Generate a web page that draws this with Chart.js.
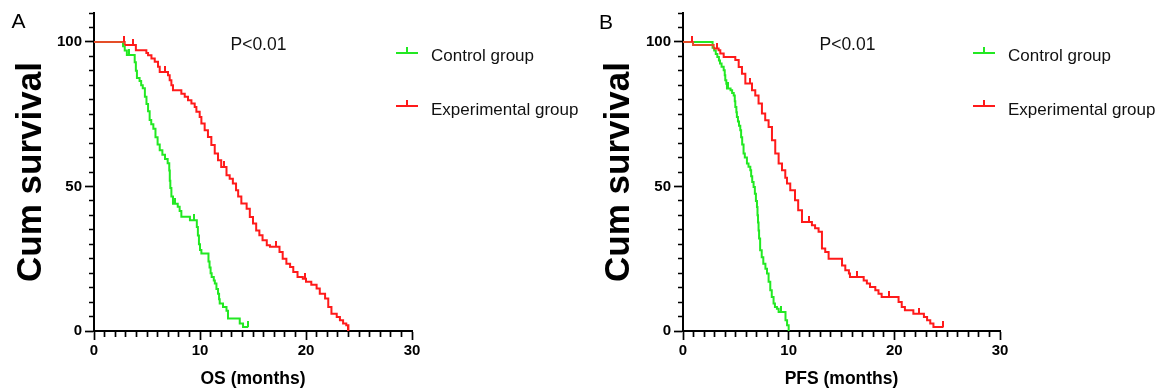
<!DOCTYPE html>
<html><head><meta charset="utf-8">
<script src="https://cdn.jsdelivr.net/npm/chart.js@4"></script>
<style>
html,body{margin:0;padding:0;background:#fff;width:1161px;height:390px;overflow:hidden;font-family:"Liberation Sans",Arial,sans-serif;}
canvas{position:absolute;top:0;}
#ca{left:0;}
#cb{left:588px;}
.lbl{position:absolute;color:#000;white-space:nowrap;line-height:1;}
.panel{font-size:21px;}
.pv{font-size:17.5px;color:#111;}
.leg{font-size:17px;color:#111;}
.glyph{position:absolute;width:22px;height:2px;}
.glyph::after{content:"";position:absolute;left:10px;top:-5px;width:2px;height:5px;background:inherit;}
</style></head>
<body>
<canvas id="ca" width="430" height="390"></canvas>
<canvas id="cb" width="430" height="390"></canvas>
<div class="lbl panel" style="left:11.5px;top:10px">A</div>
<div class="lbl panel" style="left:599px;top:11px">B</div>
<div class="lbl pv" style="left:230.5px;top:35.5px">P&lt;0.01</div>
<div class="lbl pv" style="left:819.5px;top:35.5px">P&lt;0.01</div>
<div class="glyph" style="left:396px;top:52px;background:#22e822"></div>
<div class="lbl leg" style="left:431px;top:46.5px">Control group</div>
<div class="glyph" style="left:396px;top:105px;background:#ff1a1a"></div>
<div class="lbl leg" style="left:431px;top:100.5px">Experimental group</div>
<div class="glyph" style="left:973px;top:52px;background:#22e822"></div>
<div class="lbl leg" style="left:1008px;top:46.5px">Control group</div>
<div class="glyph" style="left:973px;top:105px;background:#ff1a1a"></div>
<div class="lbl leg" style="left:1008px;top:100.5px">Experimental group</div>
<script>
// ---- Panel A: OS (months) ----
const osCtrlTime = [0, 2.74, 2.9, 3.1, 3.84, 3.95, 4.05, 4.3, 4.45, 4.6, 4.8, 4.95, 5.1, 5.25, 5.4, 5.6, 5.8, 6.0, 6.2, 6.45, 6.7, 6.95, 7.1, 7.15, 7.2, 7.3, 7.45, 7.9, 8.08, 8.24, 9.05, 9.7, 9.8, 9.9, 10.0, 10.13, 10.8, 10.9, 11.0, 11.1, 11.3, 11.4, 11.55, 11.7, 11.8, 11.86, 12.17, 12.5, 12.64, 13.75, 14.06];
const osCtrlSurv = [100, 98.5, 97, 95.5, 93, 90, 87.5, 86.5, 85, 84, 81, 78.5, 76, 73, 71.5, 70, 67, 64.5, 62.5, 61, 59.5, 58, 55.5, 52, 49.5, 46.5, 44, 43, 41.5, 39.5, 38.3, 36, 33, 30, 28, 26.8, 24, 22, 20, 18.7, 17.5, 16.4, 14.5, 12.9, 11, 9.5, 8.3, 7, 4.3, 2.6, 1.4];
const osCtrlEnd = 14.55;
const osCtrlCensor = [3.3, 7.6, 9.4, 14.55];

const osExpTime = [0, 2.9, 3.95, 4.94, 5.1, 5.42, 5.73, 6.04, 6.2, 6.98, 7.14, 7.3, 7.45, 8.24, 8.56, 8.87, 9.19, 9.5, 9.66, 9.97, 10.13, 10.44, 10.75, 11.07, 11.39, 11.7, 12.0, 12.5, 12.8, 13.1, 13.4, 13.6, 13.9, 14.4, 14.7, 15.0, 15.3, 15.6, 15.9, 16.3, 16.6, 17.5, 17.8, 18.15, 18.5, 18.8, 19.2, 19.7, 20.0, 20.5, 21.0, 21.3, 21.8, 22.1, 22.4, 22.9, 23.2, 23.5, 23.8, 24.0];
const osExpSurv = [100, 98.9, 97.1, 96.2, 95.4, 94.3, 93.1, 91.4, 89.6, 88.5, 86.7, 85, 83.3, 82.1, 81, 79.8, 78.7, 77.5, 75.8, 74, 71.8, 69.4, 67.1, 64.3, 61.4, 59.1, 56.7, 53.9, 52.7, 51, 48.7, 46.5, 44.1, 42.3, 39.4, 37.2, 34.8, 33.1, 31.4, 29.7, 29.1, 27.3, 25, 23.3, 22.1, 20.4, 18.7, 18.1, 17, 16, 14.7, 12.9, 11.2, 8.3, 6.0, 4.8, 3.7, 2.6, 2.0, 0];
const osExpEnd = 24.0;
const osExpCensor = [2.8, 3.7, 6.7, 12.3, 17.2, 19.9, 24.0];

// ---- Panel B: PFS (months) ----
const pfsCtrlTime = [0, 2.8, 2.95, 3.1, 3.25, 3.4, 3.5, 3.65, 3.85, 3.95, 4.0, 4.1, 4.16, 4.5, 4.65, 4.8, 4.9, 4.95, 5.05, 5.1, 5.2, 5.3, 5.42, 5.5, 5.6, 5.73, 5.85, 6.05, 6.2, 6.37, 6.45, 6.55, 6.68, 6.8, 6.9, 7.0, 7.05, 7.1, 7.15, 7.2, 7.3, 7.45, 7.6, 7.8, 7.95, 8.1, 8.26, 8.4, 8.57, 8.7, 8.89, 9.05, 9.7, 9.85, 10.0];
const pfsCtrlSurv = [100, 98, 97, 95.8, 94.8, 93.6, 92.5, 91.4, 90.2, 88.5, 86.7, 85.5, 83.9, 83.3, 82.3, 81.5, 79.5, 77.5, 75.7, 74, 72.5, 71, 69.4, 67, 64.5, 61.4, 60, 57.9, 56.8, 55.6, 53.5, 51.5, 49.8, 47.5, 45, 42.9, 40, 37.5, 34.8, 32, 27.9, 25.5, 23.3, 21.5, 19.9, 17, 14.1, 11.8, 9.5, 8.3, 7.7, 6.6, 3.7, 2, 0];
const pfsCtrlEnd = 10.0;
const pfsCtrlCensor = [4.3, 9.3];

const pfsExpTime = [0, 0.95, 2.9, 3.37, 3.53, 3.85, 4.95, 5.27, 5.58, 5.9, 6.53, 6.84, 7.15, 7.47, 7.78, 8.1, 8.42, 8.73, 9.05, 9.37, 9.68, 9.84, 10.15, 10.6, 10.9, 11.26, 12.2, 12.5, 12.83, 13.15, 13.46, 13.78, 15.05, 15.36, 15.7, 15.8, 17.1, 17.4, 17.7, 18.2, 18.5, 18.8, 20.4, 20.7, 21.0, 21.8, 22.8, 23.1, 23.4, 23.7];
const pfsExpSurv = [100, 98.9, 97.7, 97.1, 96, 94.8, 93.7, 91.3, 89, 85.6, 83.3, 81.5, 78.7, 75.2, 72.9, 70.6, 66, 61.4, 57.9, 55.6, 53, 51, 48.7, 45.2, 41.8, 37.7, 36.6, 35.5, 34.3, 28.5, 27.3, 25, 22.7, 21, 19.9, 18.7, 17.5, 16.4, 15.2, 14.1, 12.9, 11.8, 10, 8.3, 7.2, 6.0, 4.8, 3.7, 2.6, 1.4];
const pfsExpEnd = 24.65;
const pfsExpCensor = [0.85, 3.2, 6.3, 11.9, 16.5, 19.5, 22.3, 24.65];

// ---- Axes ----
const xMin = 0, xMax = 30, xStep = 1, xLabelEvery = 10;
const yMin = 0, yMax = 110, yStep = 5, yLabelEvery = 50;

const GREEN = '#22e822';
const RED = '#ff1a1a';
const OVERLAP = 'rgb(228,78,40)';
const FONT = '"Liberation Sans", Arial, sans-serif';

function stepAt(times, surv, t) {
  let v = surv[0];
  for (let i = 0; i < times.length; i++) if (times[i] <= t) v = surv[i];
  return v;
}
function curve(times, surv, end) {
  const pts = times.map((t, i) => ({x: t, y: surv[i]}));
  if (end > times[times.length - 1]) pts.push({x: end, y: surv[surv.length - 1]});
  return pts;
}
function censorPts(times, surv, cens) {
  return cens.map(t => ({x: t, y: stepAt(times, surv, t)}));
}
function tickImg(color) {
  const c = document.createElement('canvas');
  c.width = 2; c.height = 12;
  const g = c.getContext('2d');
  g.fillStyle = color;
  g.fillRect(0, 0, 2, 6);
  return c;
}

function makeChart(id, xTitle, yWidth, ctrl, exp) {
  // where both curves still run together along the top, the red line is drawn blended
  const ctrlFirstDrop = ctrl.t[1];
  new Chart(document.getElementById(id), {
    type: 'scatter',
    data: {
      datasets: [
        {label: 'Control group', data: curve(ctrl.t, ctrl.s, ctrl.end), showLine: true, stepped: true,
         borderColor: GREEN, borderWidth: 2, pointRadius: 0, order: 4},
        {label: 'Control censored', data: censorPts(ctrl.t, ctrl.s, ctrl.c), showLine: false,
         pointStyle: tickImg(GREEN), pointRadius: 3, order: 3},
        {label: 'Experimental group', data: curve(exp.t, exp.s, exp.end), showLine: true, stepped: true,
         borderColor: RED, borderWidth: 2, pointRadius: 0, order: 2,
         segment: {borderColor: c => (c.p1.parsed.x <= ctrlFirstDrop + 0.2 ? OVERLAP : undefined)}},
        {label: 'Experimental censored', data: censorPts(exp.t, exp.s, exp.c), showLine: false,
         pointStyle: tickImg(RED), pointRadius: 3, order: 1}
      ]
    },
    options: {
      responsive: false, animation: false, maintainAspectRatio: false,
      layout: {padding: {top: 13, right: 18, left: 0, bottom: 0}},
      plugins: {legend: {display: false}, tooltip: {enabled: false}},
      scales: {
        x: {
          type: 'linear', min: xMin, max: xMax,
          afterFit: s => { s.height = 59; },
          ticks: {stepSize: xStep, autoSkip: false, maxRotation: 0, padding: 2, color: '#000',
                  font: {family: FONT, size: 15, weight: 'bold'},
                  callback: v => (v % xLabelEvery === 0 ? v : '')},
          grid: {drawOnChartArea: false, drawTicks: true, tickLength: 9, tickColor: '#000', tickWidth: 1.7,
                 tickBorderDash: c => (c.tick && c.tick.value % xLabelEvery === 0 ? [] : [5, 100])},
          border: {color: '#000', width: 2},
          title: {display: true, text: xTitle, color: '#000', padding: {top: 0, bottom: 0.5},
                  font: {family: FONT, size: 17.5, weight: 'bold'}}
        },
        y: {
          min: yMin, max: yMax,
          afterFit: s => { s.width = yWidth; },
          ticks: {stepSize: yStep, autoSkip: false, padding: 3, color: '#000',
                  font: {family: FONT, size: 15, weight: 'bold'},
                  callback: v => (v % yLabelEvery === 0 ? v : '')},
          grid: {drawOnChartArea: false, drawTicks: true, tickLength: 9, tickColor: '#000', tickWidth: 1.7,
                 tickBorderDash: c => (c.tick && c.tick.value % yLabelEvery === 0 ? [] : [0, 4, 5, 100])},
          border: {color: '#000', width: 2},
          title: {display: true, text: 'Cum survival', color: '#000', padding: {top: 10, bottom: 0},
                  font: {family: FONT, size: 35, weight: 'bold'}}
        }
      }
    }
  });
}

makeChart('ca', 'OS (months)', 94,
  {t: osCtrlTime, s: osCtrlSurv, end: osCtrlEnd, c: osCtrlCensor},
  {t: osExpTime, s: osExpSurv, end: osExpEnd, c: osExpCensor});
makeChart('cb', 'PFS (months)', 95,
  {t: pfsCtrlTime, s: pfsCtrlSurv, end: pfsCtrlEnd, c: pfsCtrlCensor},
  {t: pfsExpTime, s: pfsExpSurv, end: pfsExpEnd, c: pfsExpCensor});
</script>
</body></html>
